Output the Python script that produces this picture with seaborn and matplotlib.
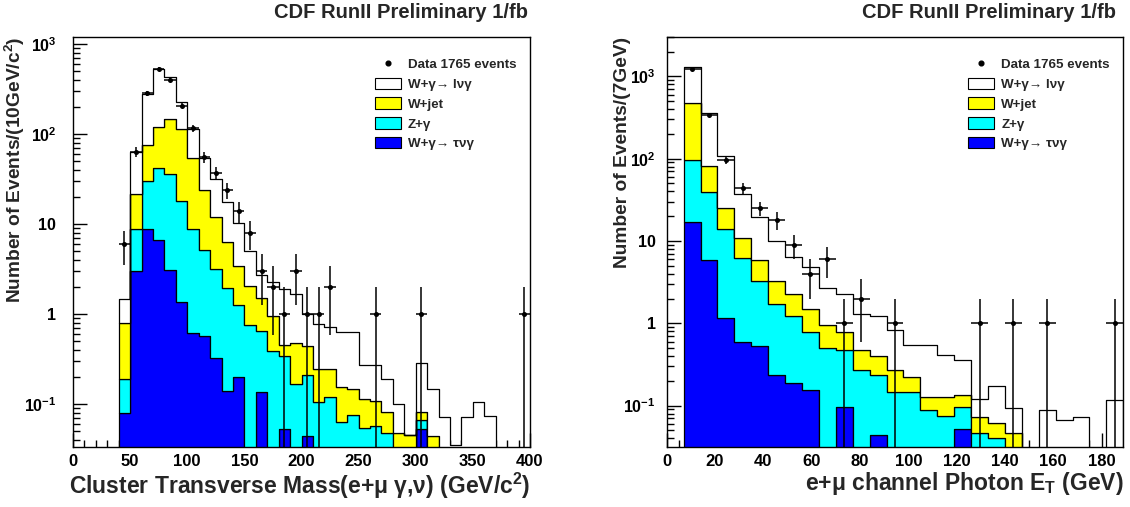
import numpy as np
import pandas as pd
import matplotlib
matplotlib.use("Agg")
import matplotlib.pyplot as plt
import seaborn as sns
from matplotlib.patches import Patch
from matplotlib.lines import Line2D
from matplotlib.ticker import (FixedLocator, FixedFormatter, MultipleLocator,
                               LogLocator, NullFormatter)

# ---------------- data ----------------
components = ["W+γ→ lνγ", "W+jet", "Z+γ", "W+γ→ τνγ"]
comp_colors = ["#ffffff", "#ffff00", "#00ffff", "#0000ff"]
data_label = "Data 1765 events"
title_text = "CDF RunII Preliminary 1/fb"

# Left panel: cluster transverse mass, 10 GeV bins (lower edges 40 ... 390)
mt_bin_low = list(range(40, 400, 10))
mt_wlnug = [0.66, 42.1, 202, 412, 288, 112, 60, 31, 19.6, 11.2, 6.96, 3.04, 1.23, 1.34,
            1.45, 1.19, 0.55, 0.535, 0.485, 0.473, 0.482, 0.161, 0.166, 0.107, 0.052, 0,
            0.207, 0.104, 0.073, 0.035, 0.072, 0.107, 0.074, 0, 0, 0]
mt_wjet = [0.62, 12.6, 45.7, 77.4, 111.8, 96.6, 46.2, 18.8, 8.84, 4.45, 2.17, 1.29, 0.85,
           0.57, 0.12, 0.31, 0.24, 0.14, 0.125, 0.093, 0.072, 0.059, 0.052, 0.035, 0.048,
           0.046, 0.016, 0.044, 0, 0, 0, 0, 0, 0, 0, 0]
mt_zg = [0.109, 5.85, 21.4, 35.9, 33.1, 17.0, 8.18, 4.63, 2.83, 1.81, 1.07, 0.77, 0.514,
         0.39, 0.287, 0.17, 0.166, 0.105, 0.12, 0.064, 0.076, 0.055, 0.057, 0.048, 0, 0,
         0.014, 0, 0, 0, 0, 0, 0, 0, 0, 0]
mt_tau = [0.081, 3.05, 8.9, 6.7, 3.1, 1.37, 0.625, 0.57, 0.33, 0.142, 0.2, 0, 0.136, 0,
          0.053, 0, 0.044, 0, 0, 0, 0, 0, 0, 0, 0, 0, 0.053, 0, 0, 0, 0, 0, 0, 0, 0, 0]
mt_data = [6, 64, 285, 530, 400, 208, 117, 56, 37, 24, 14, 8, 3, 2, 1, 3, 1, 1, 2, 0, 0,
           0, 1, 0, 0, 0, 1, 0, 0, 0, 0, 0, 0, 0, 0, 1]

# Right panel: photon E_T, 7 GeV bins (lower edges 7 ... 182)
et_bin_low = list(range(7, 189, 7))
et_wlnug = [819, 274, 82.6, 26.5, 13.8, 6.73, 4.18, 3.32, 1.71, 1.51, 0.81, 0.83, 0.56,
            0.316, 0.412, 0.282, 0.225, 0.046, 0.114, 0.048, 0, 0.088, 0.067, 0.072, 0,
            0.117]
et_wjet = [375, 42.5, 11.5, 4.8, 2.53, 1.55, 1.04, 0.69, 0.45, 0.32, 0.21, 0.165, 0.122,
           0.076, 0.04, 0.053, 0.036, 0.026, 0.021, 0.046, 0, 0, 0, 0, 0, 0]
et_zg = [79, 33.6, 12.75, 5.6, 2.74, 1.485, 1.043, 0.635, 0.50, 0.373, 0.27, 0.191, 0.148,
         0.148, 0.088, 0.075, 0.045, 0.047, 0.040, 0, 0, 0, 0, 0, 0, 0]
et_tau = [17, 5.9, 1.15, 0.6, 0.53, 0.235, 0.187, 0.155, 0, 0.097, 0, 0.044, 0, 0, 0, 0,
          0.052, 0, 0, 0, 0, 0, 0, 0, 0, 0]
et_data = [1218, 337, 96, 44, 25, 18, 9, 4, 6, 1, 2, 0, 1, 0, 0, 0, 0, 1, 0, 1, 0, 1, 0,
           0, 0, 1]

# ---------------- style ----------------
sns.set_theme(style="ticks")
plt.rcParams["font.family"] = ["Liberation Sans", "DejaVu Sans"]
plt.rcParams["font.weight"] = "bold"
plt.rcParams["mathtext.fontset"] = "custom"
plt.rcParams["mathtext.rm"] = "Liberation Sans:bold"
plt.rcParams["mathtext.it"] = "Liberation Sans:bold"
plt.rcParams["mathtext.bf"] = "Liberation Sans:bold"
plt.rcParams["mathtext.default"] = "rm"
plt.rcParams["axes.linewidth"] = 1.0

W, H = 1130, 507
fig = plt.figure(figsize=(W / 100, H / 100), dpi=100)
fig.patch.set_facecolor("white")


def draw_panel(ax, bin_low, width, series, data, xlim, ylim, xmajor, xminor,
               xlabel, ylabel, ylab_x, ypad):
    lows = np.asarray(bin_low, dtype=float)
    centers = lows + width / 2.0
    frames = [pd.DataFrame({"x": centers, "w": np.asarray(vals, dtype=float),
                            "comp": name})
              for name, vals in zip(components, series)]
    df = pd.concat(frames, ignore_index=True)
    sns.histplot(data=df, x="x", weights="w", hue="comp", hue_order=components,
                 palette=dict(zip(components, comp_colors)),
                 binwidth=width, binrange=(float(lows[0]), float(lows[-1] + width)),
                 multiple="stack", element="step", fill=True, alpha=1,
                 edgecolor="black", linewidth=0.9, legend=False, ax=ax)

    d = np.asarray(data, dtype=float)
    m = d > 0
    x, y = centers[m], d[m]
    err = np.sqrt(y)
    lo = np.minimum(err, y - ylim[0] * 0.3)
    ax.errorbar(x, y, xerr=width / 2.0, yerr=[lo, err], fmt="none", ecolor="black",
                elinewidth=1.1, capsize=0, zorder=5)
    sns.scatterplot(x=x, y=y, color="black", s=13, linewidth=0, ax=ax, zorder=6,
                    legend=False)

    ax.set_yscale("log")
    ax.set_xlim(*xlim)
    ax.set_ylim(*ylim)
    ax.yaxis.set_major_locator(FixedLocator([0.1, 1, 10, 100, 1000]))
    ax.yaxis.set_major_formatter(FixedFormatter([r"$10^{-1}$", "1", "10",
                                                 r"$10^{2}$", r"$10^{3}$"]))
    ax.yaxis.set_minor_locator(LogLocator(base=10, subs=np.arange(2, 10), numticks=40))
    ax.yaxis.set_minor_formatter(NullFormatter())
    ax.xaxis.set_major_locator(MultipleLocator(xmajor))
    ax.xaxis.set_minor_locator(MultipleLocator(xminor))
    ax.tick_params(which="both", direction="in", top=False, right=False,
                   colors="black", width=1.0)
    ax.tick_params(which="major", length=10)
    ax.tick_params(which="minor", length=5)
    ax.tick_params(axis="y", pad=ypad, labelsize=11.5)
    ax.tick_params(axis="x", pad=5, labelsize=12)
    for lab in ax.get_xticklabels() + ax.get_yticklabels():
        lab.set_fontweight("bold")
    for sp in ax.spines.values():
        sp.set_color("black")
        sp.set_linewidth(1.0)
    ax.set_facecolor("white")
    ax.grid(False)

    ax.set_xlabel(xlabel, fontsize=16.5, fontweight="bold", loc="right")
    ax.xaxis.set_label_coords(1.0, -0.058)
    ax.set_ylabel(ylabel, fontsize=13.8, fontweight="bold", loc="top")
    ax.yaxis.set_label_coords(ylab_x, 1.0)

    handles = [Line2D([], [], marker="o", color="black", linestyle="none",
                      markersize=3.4)]
    handles += [Patch(facecolor=c, edgecolor="black", linewidth=0.8) for c in comp_colors]
    ax.legend(handles, [data_label] + components, loc="upper left",
              bbox_to_anchor=(0.66, 0.948), frameon=False,
              prop={"weight": "bold", "size": 9.6}, handlelength=1.95,
              handleheight=0.95, labelspacing=0.48, handletextpad=0.55,
              borderpad=0, borderaxespad=0)


axL = fig.add_axes([73 / W, 1 - 446.7 / H, (530 - 73) / W, 410 / H])
draw_panel(axL, mt_bin_low, 10, [mt_wlnug, mt_wjet, mt_zg, mt_tau], mt_data,
           (0, 400), (0.0338, 1214), 50, 10,
           r"Cluster Transverse Mass(e+μ γ,ν) (GeV/c$^{2}$)",
           r"Number of Events/(10GeV/c$^{2}$)", -0.101, 12)

axR = fig.add_axes([666.7 / W, 1 - 446.7 / H, 456.6 / W, 410 / H])
draw_panel(axR, et_bin_low, 7, [et_wlnug, et_wjet, et_zg, et_tau], et_data,
           (0, 189), (0.0317, 3037), 20, 5,
           r"e+μ channel Photon E$_{T}$ (GeV)",
           "Number of Events/(7GeV)", -0.079, 8)

fig.text(528 / W, 1 - 13 / H, title_text, ha="right", va="center", fontsize=14.5,
         fontweight="bold")
fig.text(1116 / W, 1 - 13 / H, title_text, ha="right", va="center", fontsize=14.5,
         fontweight="bold")

fig.savefig("out.png", dpi=100, facecolor="white")
